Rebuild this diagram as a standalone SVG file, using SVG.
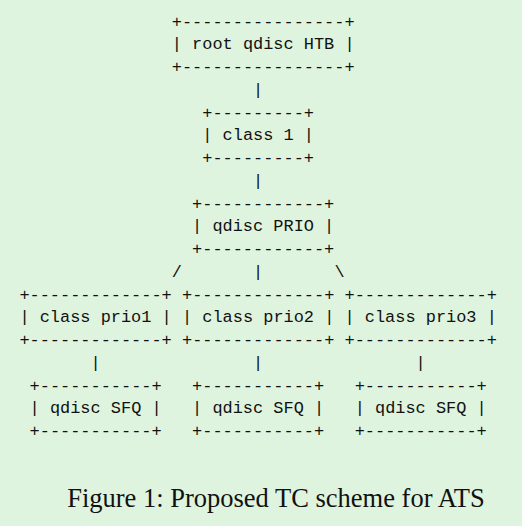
<svg xmlns="http://www.w3.org/2000/svg" width="522" height="526" viewBox="0 0 522 526">
<style>
.bg{fill:#dff4de}
.m{font-family:"Liberation Mono","DejaVu Sans Mono",monospace;font-size:16.93px;fill:#111;white-space:pre}
.cap{font-family:"Liberation Serif","Times New Roman",serif;font-size:26.5px;fill:#111}
</style>
<rect class="bg" x="0" y="0" width="522" height="526"/>
<g id="connectors" class="m">
<text x="253.1" y="94.75">|</text>
<text x="253.1" y="185.75">|</text>
<text x="171.8" y="276.75">/</text>
<text x="253.1" y="276.75">|</text>
<text x="334.4" y="276.75">\</text>
<text x="90.5" y="367.75">|</text>
<text x="253.1" y="367.75">|</text>
<text x="415.6" y="367.75">|</text>
</g>
<g id="root" class="m">
<text x="171.8" y="26.5">+----------------+</text>
<text x="171.8" y="49.25">| root qdisc HTB |</text>
<text x="171.8" y="72">+----------------+</text>
</g>
<g id="class1" class="m">
<text x="202.3" y="117.5">+---------+</text>
<text x="202.3" y="140.25">| class 1 |</text>
<text x="202.3" y="163">+---------+</text>
</g>
<g id="prio" class="m">
<text x="192.1" y="208.5">+------------+</text>
<text x="192.1" y="231.25">| qdisc PRIO |</text>
<text x="192.1" y="254">+------------+</text>
</g>
<g id="prio1" class="m">
<text x="19.4" y="299.5">+-------------+</text>
<text x="19.4" y="322.25">| class prio1 |</text>
<text x="19.4" y="345">+-------------+</text>
</g>
<g id="prio2" class="m">
<text x="182" y="299.5">+-------------+</text>
<text x="182" y="322.25">| class prio2 |</text>
<text x="182" y="345">+-------------+</text>
</g>
<g id="prio3" class="m">
<text x="344.5" y="299.5">+-------------+</text>
<text x="344.5" y="322.25">| class prio3 |</text>
<text x="344.5" y="345">+-------------+</text>
</g>
<g id="sfq1" class="m">
<text x="29.6" y="390.5">+-----------+</text>
<text x="29.6" y="413.25">| qdisc SFQ |</text>
<text x="29.6" y="436">+-----------+</text>
</g>
<g id="sfq2" class="m">
<text x="192.1" y="390.5">+-----------+</text>
<text x="192.1" y="413.25">| qdisc SFQ |</text>
<text x="192.1" y="436">+-----------+</text>
</g>
<g id="sfq3" class="m">
<text x="354.7" y="390.5">+-----------+</text>
<text x="354.7" y="413.25">| qdisc SFQ |</text>
<text x="354.7" y="436">+-----------+</text>
</g>
<text class="cap" x="276" y="507" text-anchor="middle">Figure 1: Proposed TC scheme for ATS</text>
</svg>
